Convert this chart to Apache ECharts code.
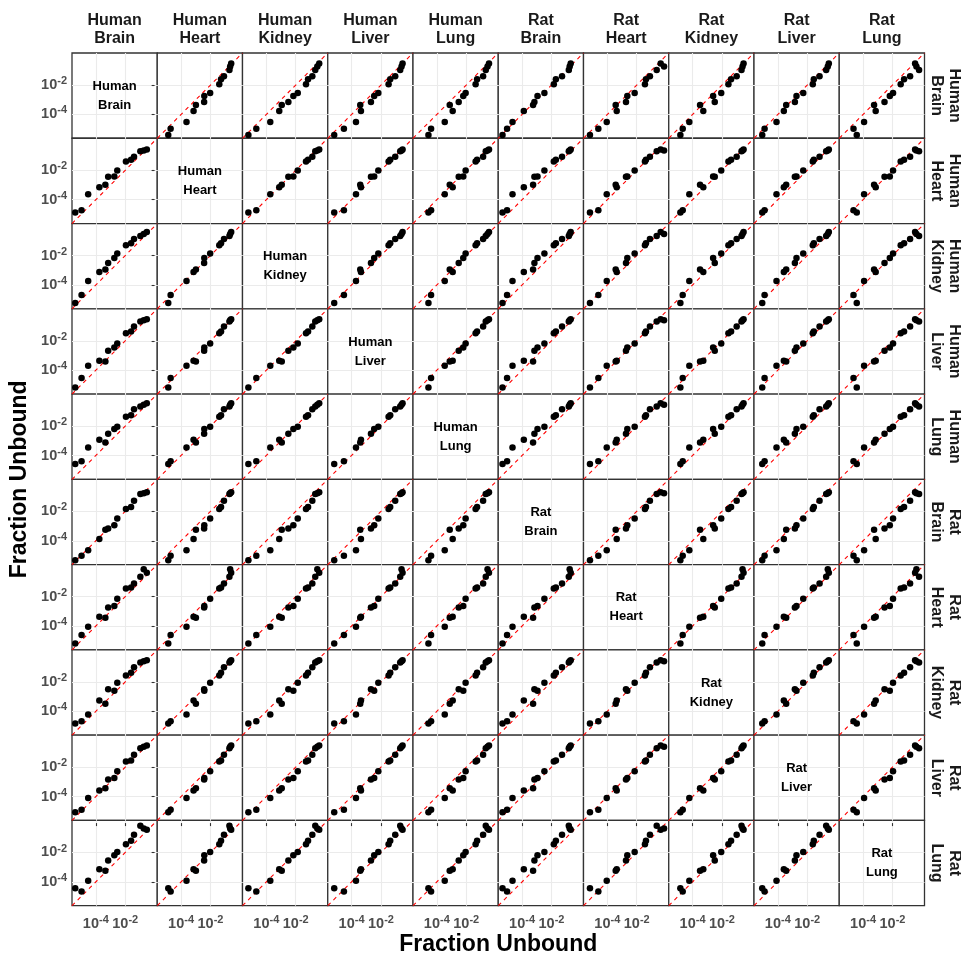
<!DOCTYPE html>
<html><head><meta charset="utf-8">
<script src="https://cdn.jsdelivr.net/npm/echarts@6/dist/echarts.min.js"></script>
<style>html,body{margin:0;padding:0;background:#fff}#c{width:961px;height:958px}</style>
</head><body><div id="c"></div>
<script>
// Tissue names (facet labels)
const tissues = ['Human Brain','Human Heart','Human Kidney','Human Liver','Human Lung',
                 'Rat Brain','Rat Heart','Rat Kidney','Rat Liver','Rat Lung'];
// log10(fraction unbound) per compound, one array per tissue (same compound order)
const humanBrain  = [-5.40,-4.97,-4.52,-3.76,-3.35,-3.16,-2.74,-2.54,-1.95,-1.60,-1.40,-0.97,-0.74,-0.53];
const humanHeart  = [-4.87,-4.71,-3.63,-3.15,-2.99,-2.43,-2.42,-2.02,-1.40,-1.28,-1.08,-0.71,-0.66,-0.59];
const humanKidney = [-5.22,-4.68,-3.73,-3.12,-2.95,-2.50,-2.16,-1.86,-1.30,-1.16,-0.87,-0.67,-0.53,-0.40];
const humanLiver  = [-5.18,-4.52,-3.70,-3.36,-3.41,-2.68,-2.46,-2.18,-1.48,-1.37,-1.03,-0.69,-0.60,-0.53];
const humanLung   = [-4.57,-4.39,-3.46,-2.92,-3.12,-2.51,-2.20,-2.04,-1.36,-1.26,-0.85,-0.67,-0.55,-0.45];
const ratBrain    = [-5.33,-5.02,-4.65,-3.88,-3.25,-3.16,-2.95,-2.48,-1.84,-1.70,-1.28,-0.82,-0.76,-0.69];
const ratHeart    = [-5.18,-4.61,-4.04,-3.36,-3.43,-2.73,-2.64,-2.14,-1.44,-1.37,-1.10,-0.64,-0.14,-0.37];
const ratKidney   = [-4.83,-4.67,-4.22,-3.27,-3.49,-2.49,-2.60,-2.05,-1.56,-1.38,-1.00,-0.67,-0.60,-0.53];
const ratLiver    = [-5.06,-4.90,-4.09,-3.59,-3.43,-2.84,-2.73,-2.27,-1.62,-1.55,-1.16,-0.71,-0.60,-0.53];
const ratLung     = [-4.43,-4.65,-3.93,-3.14,-3.25,-2.54,-2.18,-1.96,-1.44,-1.21,-0.80,-0.19,-0.37,-0.46];
const tissueValues = [humanBrain, humanHeart, humanKidney, humanLiver, humanLung,
                      ratBrain, ratHeart, ratKidney, ratLiver, ratLung];
// axis tick labels (log10 exponents)
const tickValues = [-4, -2];
const axisMin = -5.62, axisMax = 0.18;
const axisTitle = 'Fraction Unbound';

const chart = echarts.init(document.getElementById('c'), null, {renderer: 'canvas'});
const FONT = '"Liberation Sans", Arial, sans-serif';
const N = tissues.length;
const L = 72, T = 53, PW = 85.25, PH = 85.27;
const grids = [], xAxes = [], yAxes = [], series = [], graphics = [];

const rich = {
  b: {fontSize: 14.5, fontWeight: 'bold', color: '#4d4d4d', fontFamily: FONT},
  s: {fontSize: 11, fontWeight: 'bold', color: '#4d4d4d', fontFamily: FONT, padding: [0, 0, 8, 0]}
};
const fmt = v => '{b|10}{s|' + v + '}';

for (let i = 0; i < N; i++) {
  for (let j = 0; j < N; j++) {
    const idx = i * N + j;
    grids.push({left: L + j * PW, top: T + i * PH, width: PW, height: PH,
      show: true, borderColor: '#333333', borderWidth: 1.3, backgroundColor: '#fff',
      containLabel: false, outerBoundsMode: 'none'});
    const common = {type: 'value', gridIndex: idx, min: axisMin, max: axisMax,
      axisLine: {show: false},
      splitLine: {show: true, lineStyle: {color: '#ebebeb', width: 1.1}}};
    xAxes.push(Object.assign({}, common, {
      axisTick: {show: i === N - 1, customValues: tickValues, length: 3, lineStyle: {color: '#333', width: 1.1}},
      axisLabel: {show: i === N - 1, customValues: tickValues, formatter: fmt, rich: rich, margin: 9}
    }));
    yAxes.push(Object.assign({}, common, {
      axisTick: {show: j === 0, customValues: tickValues, length: 3, lineStyle: {color: '#333', width: 1.1}},
      axisLabel: {show: j === 0, customValues: tickValues, formatter: fmt, rich: rich, margin: 5}
    }));
    if (i !== j) {
      const xs = tissueValues[j], ys = tissueValues[i];
      series.push({type: 'line', xAxisIndex: idx, yAxisIndex: idx, silent: true,
        data: [[axisMin, axisMin], [axisMax, axisMax]], showSymbol: false, symbol: 'none',
        lineStyle: {color: '#ff0000', type: [4, 4], width: 1.1}, z: 2, animation: false});
      series.push({type: 'scatter', xAxisIndex: idx, yAxisIndex: idx, silent: true,
        data: xs.map((x, k) => [x, ys[k]]), symbolSize: 6.5,
        itemStyle: {color: '#000', opacity: 1}, z: 3, animation: false});
    } else {
      graphics.push({type: 'text', x: L + j * PW + PW / 2, y: T + i * PH + PH / 2,
        style: {text: tissues[i].replace(' ', '\n'), fontSize: 13, fontWeight: 'bold',
          fontFamily: FONT, fill: '#000', align: 'center', verticalAlign: 'middle', lineHeight: 19}, z: 100});
    }
  }
}
// strip labels
for (let j = 0; j < N; j++) {
  graphics.push({type: 'text', x: L + j * PW + PW / 2, y: 29.5,
    style: {text: tissues[j].replace(' ', '\n'), fontSize: 16, fontWeight: 'bold', fontFamily: FONT,
      fill: '#1a1a1a', align: 'center', verticalAlign: 'middle', lineHeight: 18}});
}
for (let i = 0; i < N; i++) {
  graphics.push({type: 'text', x: 945, y: T + i * PH + PH / 2, rotation: -Math.PI / 2,
    style: {text: tissues[i].replace(' ', '\n'), fontSize: 16, fontWeight: 'bold', fontFamily: FONT,
      fill: '#1a1a1a', align: 'center', verticalAlign: 'middle', lineHeight: 18}});
}
graphics.push({type: 'text', x: L + N * PW / 2, y: 945,
  style: {text: axisTitle, fontSize: 23, fontWeight: 'bold', fontFamily: FONT, fill: '#000',
    align: 'center', verticalAlign: 'middle'}});
graphics.push({type: 'text', x: 20, y: T + N * PH / 2, rotation: Math.PI / 2,
  style: {text: axisTitle, fontSize: 23, fontWeight: 'bold', fontFamily: FONT, fill: '#000',
    align: 'center', verticalAlign: 'middle'}});

chart.setOption({animation: false, backgroundColor: '#fff',
  grid: grids, xAxis: xAxes, yAxis: yAxes, series: series, graphic: graphics});
</script></body></html>
